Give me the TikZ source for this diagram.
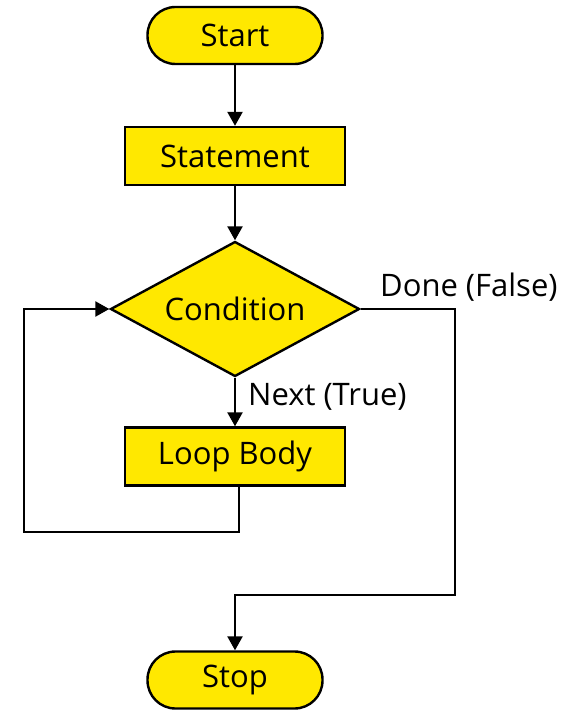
\documentclass[tikz,border=0pt]{standalone}
\usepackage{fontspec}
\setmainfont{Open Sans}
\usetikzlibrary{arrows.meta,shapes.geometric}
\definecolor{boxfill}{RGB}{255,232,0}
\tikzset{
  x=1pt, y=-1pt,
  every node/.style={font=\fontsize{31}{36}\selectfont, inner sep=0pt},
  shapebase/.style={draw=black, line width=2.4pt, fill=boxfill},
  terminal/.style={shapebase, rectangle, rounded corners=28pt, minimum width=175pt, minimum height=57pt},
  process/.style={shapebase, rectangle, minimum width=220pt, minimum height=58pt},
  decision/.style={shapebase, diamond, aspect=1.84, minimum width=249pt, minimum height=135pt},
  flow/.style={draw=black, line width=2.4pt, -{Triangle[width=15pt,length=14pt]}},
}
\begin{document}
\begin{tikzpicture}
\useasboundingbox (0,0) rectangle (562,711);

\node[terminal] (start) at (235,35.5) {Start};
\node[process] (stmt) at (235,156) {Statement};
\node[decision] (cond) at (235,309) {Condition};
\node[process] (body) at (235,456.5) {Loop Body};
\node[terminal] (stop) at (235,680) {Stop};

\draw[flow] (start) -- (stmt);
\draw[flow] (stmt) -- (cond);
\draw[flow] (cond.south) -- (body.north);
\node[anchor=base west] (nextlbl) at (248,405) {Next (True)};

% loop back from the body to the condition
\coordinate (b0) at (239,485);
\coordinate (b1) at (239,532);
\coordinate (b2) at (24,532);
\coordinate (b3) at (24,309);
\draw[flow] (b0) -- (b1) -- (b2) -- (b3) -- (cond.west);

% exit branch
\coordinate (e1) at (455,309);
\coordinate (e2) at (455,595);
\coordinate (e3) at (235,595);
\draw[flow] (cond.east) -- (e1) -- (e2) -- (e3) -- (stop.north);
\node[anchor=base west] (donelbl) at (380,296) {Done (False)};
\end{tikzpicture}
\end{document}
